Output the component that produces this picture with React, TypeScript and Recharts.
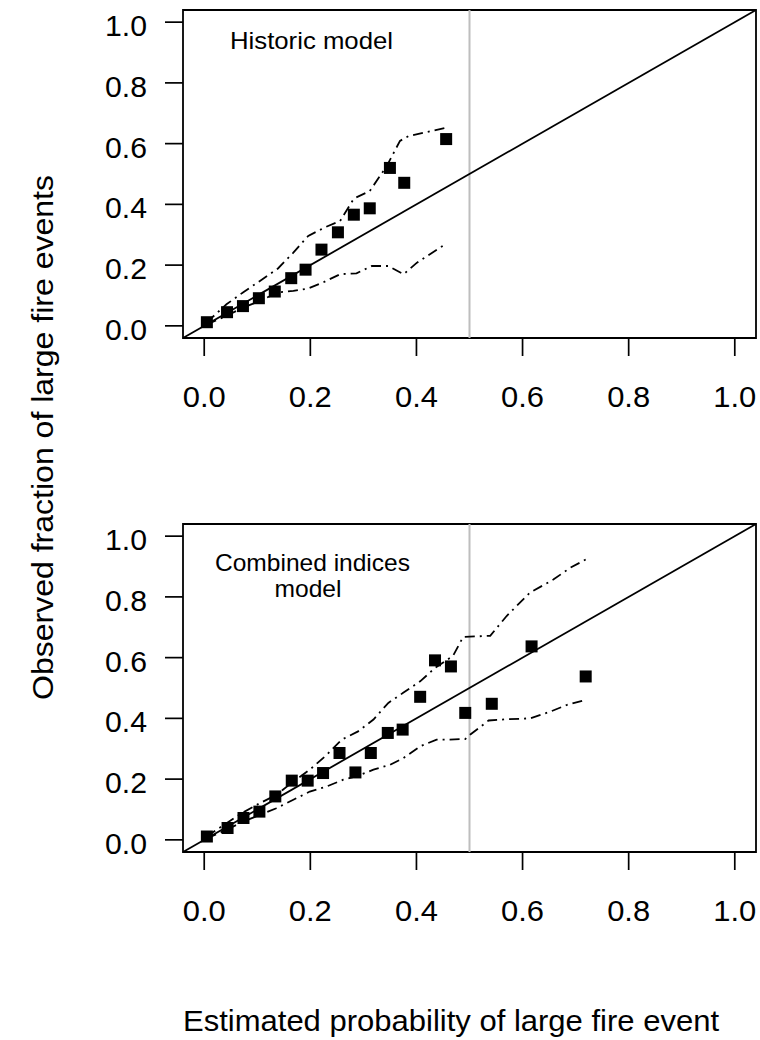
import {
  ComposedChart,
  Scatter,
  Line,
  XAxis,
  YAxis,
  ReferenceLine,
  ReferenceArea,
} from 'recharts';

const FONT = '"Liberation Sans", Arial, Helvetica, sans-serif';

// axis ticks (both axes, both panels)
const axisTicks = [0, 0.2, 0.4, 0.6, 0.8, 1.0];
const axisDomain = [-0.04, 1.04];

// Historic model: observed vs estimated
const histX = [0.005, 0.043, 0.073, 0.103, 0.133, 0.164, 0.191, 0.221, 0.252, 0.282, 0.312, 0.35, 0.377, 0.456];
const histY = [0.012, 0.045, 0.065, 0.091, 0.113, 0.157, 0.185, 0.251, 0.308, 0.366, 0.387, 0.52, 0.471, 0.615];

const histUpperX = [0.005, 0.042, 0.073, 0.105, 0.139, 0.168, 0.196, 0.227, 0.256, 0.282, 0.312, 0.344, 0.369, 0.385, 0.419, 0.457];
const histUpperY = [0.012, 0.071, 0.11, 0.148, 0.189, 0.241, 0.296, 0.324, 0.345, 0.419, 0.444, 0.526, 0.609, 0.625, 0.638, 0.653];

const histLowerX = [0.005, 0.042, 0.073, 0.105, 0.139, 0.168, 0.196, 0.224, 0.256, 0.287, 0.316, 0.347, 0.376, 0.401, 0.451];
const histLowerY = [0.005, 0.033, 0.06, 0.082, 0.11, 0.115, 0.123, 0.143, 0.17, 0.173, 0.197, 0.197, 0.17, 0.208, 0.265];

// Combined indices model
const combX = [0.005, 0.044, 0.074, 0.104, 0.134, 0.165, 0.195, 0.224, 0.255, 0.285, 0.314, 0.346, 0.374, 0.407, 0.435, 0.465, 0.492, 0.542, 0.617, 0.719];
const combY = [0.011, 0.039, 0.072, 0.093, 0.143, 0.195, 0.195, 0.22, 0.286, 0.222, 0.286, 0.352, 0.363, 0.471, 0.591, 0.571, 0.418, 0.448, 0.637, 0.538];

const combUpperX = [0.005, 0.042, 0.073, 0.105, 0.136, 0.168, 0.199, 0.231, 0.259, 0.29, 0.319, 0.347, 0.375, 0.407, 0.435, 0.469, 0.488, 0.539, 0.57, 0.614, 0.658, 0.69, 0.719];
const combUpperY = [0.012, 0.055, 0.09, 0.121, 0.148, 0.192, 0.231, 0.28, 0.33, 0.357, 0.396, 0.451, 0.484, 0.522, 0.566, 0.606, 0.668, 0.672, 0.737, 0.814, 0.857, 0.896, 0.923];

const combLowerX = [0.005, 0.042, 0.073, 0.105, 0.136, 0.168, 0.199, 0.231, 0.262, 0.29, 0.319, 0.35, 0.375, 0.407, 0.438, 0.457, 0.492, 0.501, 0.536, 0.57, 0.614, 0.652, 0.683, 0.719];
const combLowerY = [0.005, 0.033, 0.06, 0.082, 0.104, 0.132, 0.159, 0.176, 0.198, 0.211, 0.231, 0.247, 0.269, 0.308, 0.33, 0.33, 0.332, 0.346, 0.393, 0.397, 0.4, 0.422, 0.444, 0.461];

function zip(xs: number[], ys: number[]) {
  return xs.map((x, i) => ({ x, y: ys[i] }));
}

function XTick(props: any) {
  const { x, y, payload } = props;
  return (
    <text
      x={x}
      y={y}
      dy={21}
      textAnchor="middle"
      fontSize={29}
      fontFamily={FONT}
      fill="#000"
      textLength={43}
      lengthAdjust="spacingAndGlyphs"
    >
      {Number(payload.value).toFixed(1)}
    </text>
  );
}

function YTick(props: any) {
  const { x, y, payload } = props;
  return (
    <text
      x={x}
      y={y}
      dy={14}
      textAnchor="end"
      fontSize={29}
      fontFamily={FONT}
      fill="#000"
      textLength={42}
      lengthAdjust="spacingAndGlyphs"
    >
      {Number(payload.value).toFixed(1)}
    </text>
  );
}

function SquareDot(props: any) {
  const { cx, cy } = props;
  if (cx == null || cy == null) return null;
  return <rect x={cx - 6} y={cy - 6} width={12} height={12} fill="#000" />;
}

interface PanelProps {
  points: { x: number; y: number }[];
  upper: { x: number; y: number }[];
  lower: { x: number; y: number }[];
  top: number;
}

function Panel({ points, upper, lower, top }: PanelProps) {
  return (
    <div style={{ position: 'absolute', left: 0, top, width: 760, height: 440 }}>
      <ComposedChart width={760} height={440} margin={{ top: 10, right: 4, bottom: 0, left: 0 }}>
        <XAxis
          type="number"
          dataKey="x"
          domain={axisDomain}
          ticks={axisTicks}
          allowDataOverflow
          axisLine={false}
          tickSize={18}
          tickMargin={30}
          tickLine={{ stroke: '#000', strokeWidth: 1.7 }}
          tick={<XTick />}
          height={102}
          interval={0}
        />
        <YAxis
          type="number"
          dataKey="y"
          domain={axisDomain}
          ticks={axisTicks}
          allowDataOverflow
          axisLine={false}
          tickSize={18}
          tickMargin={18}
          tickLine={{ stroke: '#000', strokeWidth: 1.7 }}
          tick={<YTick />}
          width={183}
          interval={0}
        />
        <ReferenceLine x={0.5} stroke="#bebebe" strokeWidth={2} />
        <ReferenceLine
          segment={[
            { x: -0.04, y: -0.04 },
            { x: 1.04, y: 1.04 },
          ]}
          stroke="#000"
          strokeWidth={1.8}
          ifOverflow="visible"
        />
        <Line
          data={upper}
          dataKey="y"
          type="linear"
          stroke="#000"
          strokeWidth={1.8}
          strokeDasharray="10 5 2 5"
          dot={false}
          isAnimationActive={false}
        />
        <Line
          data={lower}
          dataKey="y"
          type="linear"
          stroke="#000"
          strokeWidth={1.8}
          strokeDasharray="10 5 2 5"
          dot={false}
          isAnimationActive={false}
        />
        <Scatter data={points} dataKey="y" shape={<SquareDot />} isAnimationActive={false} />
        <ReferenceArea
          x1={-0.04}
          x2={1.04}
          y1={-0.04}
          y2={1.04}
          fill="none"
          stroke="#000"
          strokeWidth={1.8}
          ifOverflow="visible"
        />
      </ComposedChart>
    </div>
  );
}

export default function App() {
  return (
    <div style={{ position: 'absolute', left: 0, top: 0, width: 760, height: 1040, background: '#fff', overflow: 'hidden' }}>
      <Panel points={zip(histX, histY)} upper={zip(histUpperX, histUpperY)} lower={zip(histLowerX, histLowerY)} top={0} />
      <Panel points={zip(combX, combY)} upper={zip(combUpperX, combUpperY)} lower={zip(combLowerX, combLowerY)} top={514} />
      <svg
        width={760}
        height={1040}
        style={{ position: 'absolute', left: 0, top: 0, pointerEvents: 'none' }}
        fontFamily={FONT}
        fill="#000"
      >
        <text x={311.5} y={49} fontSize={24} textAnchor="middle" textLength={163} lengthAdjust="spacingAndGlyphs">
          Historic model
        </text>
        <text x={312.5} y={571} fontSize={24} textAnchor="middle" textLength={195} lengthAdjust="spacingAndGlyphs">
          Combined indices
        </text>
        <text x={308} y={597} fontSize={24} textAnchor="middle" textLength={67} lengthAdjust="spacingAndGlyphs">
          model
        </text>
        <text x={451} y={1031} fontSize={29} textAnchor="middle" textLength={536} lengthAdjust="spacingAndGlyphs">
          Estimated probability of large fire event
        </text>
        <text
          x={0}
          y={0}
          fontSize={29}
          textAnchor="middle"
          textLength={525}
          lengthAdjust="spacingAndGlyphs"
          transform="translate(53 437.5) rotate(-90)"
        >
          Observed fraction of large fire events
        </text>
      </svg>
    </div>
  );
}
